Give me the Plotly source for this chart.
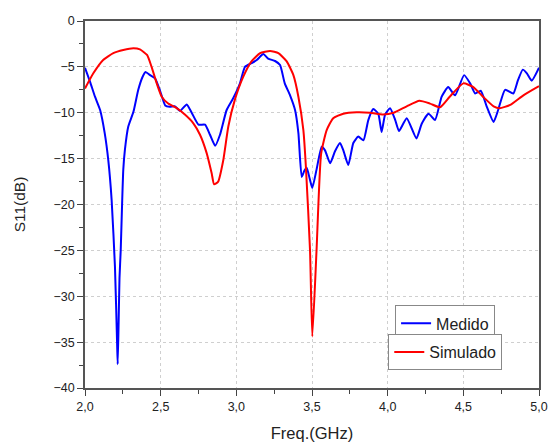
import plotly.graph_objects as go

# Medido (measured)
med_f = [2.000, 2.033, 2.066, 2.10, 2.13, 2.154, 2.176, 2.198, 2.212, 2.216, 2.222, 2.228, 2.236, 2.245,
         2.253, 2.264, 2.286, 2.32, 2.352, 2.38, 2.40, 2.43, 2.463, 2.496, 2.53, 2.56, 2.595, 2.628,
         2.672, 2.705, 2.75, 2.793, 2.826, 2.86, 2.892, 2.936, 2.98, 3.024, 3.057, 3.10, 3.135, 3.178,
         3.21, 3.256, 3.289, 3.32, 3.355, 3.388, 3.41, 3.432, 3.45, 3.465, 3.485, 3.502, 3.53, 3.564,
         3.586, 3.62, 3.652, 3.685, 3.707, 3.74, 3.773, 3.806, 3.84, 3.872, 3.905, 3.938, 3.96, 3.983,
         4.016, 4.05, 4.075, 4.126, 4.19, 4.225, 4.27, 4.313, 4.357, 4.40, 4.445, 4.505, 4.545, 4.578,
         4.615, 4.654, 4.70, 4.73, 4.776, 4.83, 4.86, 4.893, 4.92, 4.952, 5.0]
med_db = [-5.1, -6.6, -8.25, -9.7, -12.2, -15.2, -19.5, -26.8, -35.0, -37.4, -33.0, -28.0, -25.0, -20.0,
          -16.2, -14.0, -11.5, -9.9, -7.5, -6.1, -5.55, -5.9, -6.25, -7.6, -9.2, -9.35, -9.3, -9.8,
          -9.1, -10.0, -11.3, -11.3, -12.4, -13.6, -12.4, -9.7, -8.4, -6.8, -5.0, -4.6, -4.25, -3.6,
          -4.1, -4.36, -4.8, -6.8, -8.1, -9.7, -12.2, -17.0, -16.3, -16.0, -17.2, -18.2, -16.2, -13.7,
          -14.1, -15.5, -14.2, -13.3, -14.1, -15.7, -13.3, -12.6, -13.0, -10.8, -9.6, -10.1, -12.1, -10.2,
          -9.5, -10.8, -12.0, -10.6, -12.8, -11.2, -10.1, -10.8, -8.25, -7.2, -8.1, -5.9, -6.8, -7.9,
          -7.6, -9.3, -11.0, -9.7, -7.5, -7.9, -6.5, -5.3, -5.7, -6.5, -5.1]

# Simulado (simulated)
sim_f = [2.0, 2.055, 2.12, 2.187, 2.253, 2.32, 2.363, 2.41, 2.44, 2.474, 2.507, 2.55, 2.606, 2.66,
         2.716, 2.76, 2.804, 2.837, 2.853, 2.88, 2.914, 2.947, 2.99, 3.046, 3.10, 3.157, 3.223, 3.278,
         3.333, 3.377, 3.41, 3.443, 3.46, 3.487, 3.502, 3.53, 3.56, 3.597, 3.64, 3.707, 3.795, 3.884,
         3.97, 4.04, 4.126, 4.21, 4.28, 4.346, 4.41, 4.50, 4.566, 4.63, 4.70, 4.74, 4.81, 4.897, 5.0]
sim_db = [-7.35, -5.7, -4.25, -3.5, -3.16, -2.98, -3.1, -3.7, -5.0, -6.8, -8.25, -9.0, -9.5, -10.2,
          -11.15, -12.4, -14.4, -16.6, -17.8, -17.5, -15.15, -11.5, -8.6, -6.07, -4.4, -3.5, -3.27, -3.5,
          -4.4, -5.9, -8.25, -11.9, -16.0, -25.0, -34.4, -25.0, -14.5, -11.9, -10.6, -10.1, -9.95, -10.0,
          -10.2, -10.0, -9.3, -8.7, -9.0, -9.4, -8.25, -6.8, -7.2, -8.25, -9.3, -9.5, -9.15, -8.1, -7.1]

x_ticks = [2.0, 2.5, 3.0, 3.5, 4.0, 4.5, 5.0]
y_ticks = [0, -5, -10, -15, -20, -25, -30, -35, -40]

fig = go.Figure()
fig.add_trace(go.Scatter(x=med_f, y=med_db, mode="lines", name="Medido",
                         line=dict(color="#0000FF", width=2, shape="spline", smoothing=0.5),
                         legend="legend2"))
fig.add_trace(go.Scatter(x=sim_f, y=sim_db, mode="lines", name="Simulado",
                         line=dict(color="#FF0000", width=2, shape="spline", smoothing=0.5),
                         legend="legend3"))

font_family = "Arial, Liberation Sans, sans-serif"
axis_common = dict(showline=True, linecolor="#555555", linewidth=1.5, mirror=True,
                   ticks="outside", ticklen=6, tickwidth=1.2, tickcolor="#444444",
                   showgrid=True, gridcolor="#cfcfcf", griddash="dot", gridwidth=1,
                   zeroline=False, automargin=False,
                   tickfont=dict(size=12.5, color="#222222", family=font_family))

leg_common = dict(xanchor="left", yanchor="middle", bgcolor="white",
                  bordercolor="#888888", borderwidth=1, font=dict(size=16),
                  tracegroupgap=0, itemwidth=30)

fig.update_layout(
    width=548, height=443,
    margin=dict(l=85, r=9, t=21, b=55, autoexpand=False),
    paper_bgcolor="white", plot_bgcolor="white",
    separators=",.",
    font=dict(family=font_family, color="#222222"),
    showlegend=True,
    xaxis=dict(axis_common, range=[2.0, 5.0], tickvals=x_ticks, tickformat=".1f",
               minor=dict(dtick=0.25, ticks="outside", ticklen=4, tickcolor="#444444", showgrid=False),
               title=dict(text="Freq.(GHz)", font=dict(size=16.5), standoff=15)),
    yaxis=dict(axis_common, range=[-40, 0], tickvals=y_ticks,
               minor=dict(dtick=2.5, ticks="outside", ticklen=4, tickcolor="#444444", showgrid=False),
               title=dict(text="S11(dB)", font=dict(size=15.5), standoff=24)),
    legend2=dict(leg_common, x=0.683, y=0.176),
    legend3=dict(leg_common, x=0.668, y=0.098),
)

fig.write_html("out.html", config={"displayModeBar": False},
               post_script="document.body.style.margin='0';document.body.style.padding='0';")
